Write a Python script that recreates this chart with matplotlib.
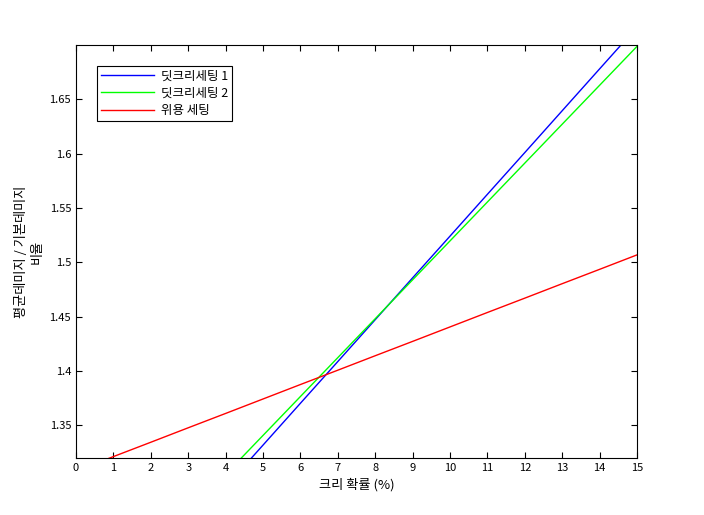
import numpy as np
import matplotlib.pyplot as plt

plt.rcParams['font.family'] = ['Noto Sans CJK KR', 'DejaVu Sans']
plt.rcParams['font.size'] = 8

# 크리 확률 (%)
crit = [0, 1, 2, 3, 4, 5, 6, 7, 8, 9, 10, 11, 12, 13, 14, 15]
# 딧크리세팅 1 (blue)
dcrit1 = [1.1396, 1.1781, 1.2165, 1.2550, 1.2935, 1.3319, 1.3704, 1.4088,
          1.4473, 1.4858, 1.5242, 1.5627, 1.6011, 1.6396, 1.6781, 1.7165]
# 딧크리세팅 2 (green)
dcrit2 = [1.1618, 1.1976, 1.2334, 1.2692, 1.3050, 1.3408, 1.3766, 1.4124,
          1.4482, 1.4840, 1.5198, 1.5556, 1.5914, 1.6272, 1.6630, 1.6988]
# 위용 세팅 (red)
wiyong = [1.3080, 1.3213, 1.3345, 1.3478, 1.3610, 1.3743, 1.3876, 1.4008,
          1.4141, 1.4273, 1.4406, 1.4539, 1.4671, 1.4804, 1.4936, 1.5069]

fig = plt.figure(figsize=(7.04, 5.15), dpi=100)
ax = fig.add_axes([0.108, 0.1107, 0.797, 0.802])

ax.plot(crit, dcrit1, color='#0000ff', lw=1, label='딧크리세팅 1')
ax.plot(crit, dcrit2, color='#00ff00', lw=1, label='딧크리세팅 2')
ax.plot(crit, wiyong, color='#ff0000', lw=1, label='위용 세팅')

ax.set_xlim(0, 15)
ax.set_ylim(1.32, 1.70)
ax.set_xticks(np.arange(0, 16, 1))
ax.set_yticks([1.35, 1.4, 1.45, 1.5, 1.55, 1.6, 1.65])
ax.set_yticklabels(['1.35', '1.4', '1.45', '1.5', '1.55', '1.6', '1.65'])
ax.tick_params(direction='in', top=True, right=True, length=4, width=0.8,
               labelsize=8)
for s in ax.spines.values():
    s.set_linewidth(0.8)

ax.set_xlabel('크리 확률 (%)', fontsize=9.5)
ax.set_ylabel('평균데미지 / 기본데미지\n비율', fontsize=9.5, linespacing=1.3)

leg = ax.legend(loc='upper left', bbox_to_anchor=(0.037, 0.95), fancybox=False,
                edgecolor='black', framealpha=1, fontsize=9, handlelength=4.3,
                borderpad=0.3, labelspacing=0.35, handletextpad=0.5,
                borderaxespad=0)
leg.get_frame().set_linewidth(0.8)

fig.savefig('out.png', dpi=100)
